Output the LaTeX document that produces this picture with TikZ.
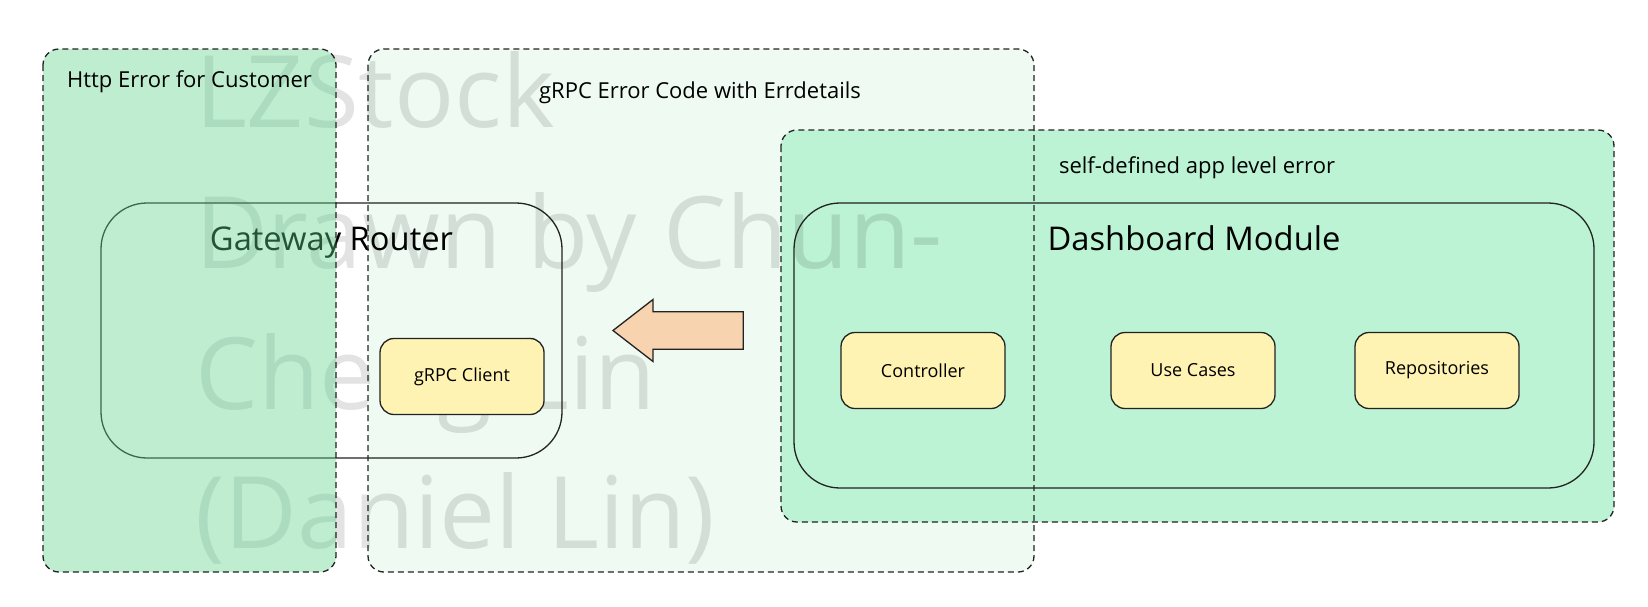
\documentclass[tikz,border=0pt]{standalone}
\usepackage{fontspec}
\setmainfont{Open Sans}
\usetikzlibrary{positioning}

\definecolor{grpcgreen}{RGB}{238,250,242}
\definecolor{appgreen}{RGB}{187,243,212}
\definecolor{httpgreen}{RGB}{92,210,137}
\definecolor{compyellow}{RGB}{255,243,179}
\definecolor{arrowpeach}{RGB}{247,211,176}
\definecolor{edgegray}{RGB}{34,34,34}

\begin{document}
\begin{tikzpicture}[x=1pt, y=-1pt,
    every node/.style={inner sep=0pt, outer sep=0pt},
    zonefill/.style={rounded corners=16pt},
    zoneline/.style={draw=edgegray, line width=1.3pt, dash pattern=on 6pt off 4pt, rounded corners=16pt},
    zonelabel/.style={font=\fontsize{22}{26}\selectfont, anchor=base},
    module/.style={draw=edgegray, line width=1.3pt, rounded corners=46pt},
    title/.style={font=\fontsize{32.7}{39}\selectfont, anchor=base},
    comp/.style={draw=edgegray, fill=compyellow, line width=1.3pt, rounded corners=14pt,
                 minimum width=164pt, minimum height=76pt, font=\fontsize{18}{22}\selectfont},
    watermark/.style={font=\fontsize{100}{140}\selectfont, text=black, text opacity=0.11, anchor=base west}]
    \useasboundingbox (0,0) rectangle (1648,606);

    % Zonas de error (relleno)
    \node[zonefill, fill=grpcgreen, minimum width=666pt, minimum height=523pt] (grpc) at (701,310.5) {};
    \node[zonefill, fill=appgreen, minimum width=833pt, minimum height=392pt] (appzone) at (1197.5,326) {};

    % Marca de agua
    \node[watermark] (wm1) at (195,127) {LZStock};
    \node[watermark] (wm2) at (195,268) {Drawn by Chun-};
    \node[watermark] (wm3) at (195,409) {Cheng Lin};
    \node[watermark] (wm4) at (195,548) {(Daniel Lin)};

    % Modulos
    \node[module, minimum width=461pt, minimum height=255pt] (gateway) at (331.5,330.5) {};
    \node[module, minimum width=800pt, minimum height=285pt] (dashboard) at (1194,345.5) {};
    \node[title] (gatewaytitle) at (331.5,250) {Gateway Router};
    \node[title] (dashtitle) at (1194,250.5) {Dashboard Module};

    % Componentes
    \node[comp] (client) at (462,376.5) {gRPC Client};
    \node[comp] (controller) at (923,370.5) {Controller};
    \node[comp] (usecases) at (1193,370.5) {Use Cases};
    \node[comp] (repos) at (1437,370.5) {Repositories};

    % Flecha
    \coordinate (tip) at (613,330.5);
    \draw[draw=edgegray, fill=arrowpeach, line width=1.3pt, line join=miter]
        (tip) -- ++(40,-31) -- ++(0,12.3) -- ++(90.3,0) -- ++(0,37.4)
        -- ++(-90.3,0) -- ++(0,12.3) -- cycle;

    % Zona http (encima, transparente)
    \node[zonefill, fill=httpgreen, fill opacity=0.4, minimum width=293pt, minimum height=523pt] (http) at (189.5,310.5) {};

    % Bordes de zonas
    \draw[zoneline] (http.north west) rectangle (http.south east);
    \draw[zoneline] (grpc.north west) rectangle (grpc.south east);
    \draw[zoneline] (appzone.north west) rectangle (appzone.south east);

    % Etiquetas
    \node[zonelabel] (httplabel) at (189.5,87.5) {Http Error for Customer};
    \node[zonelabel] (grpclabel) at (700,98) {gRPC Error Code with Errdetails};
    \node[zonelabel] (applabel) at (1197,173) {self-defined app level error};
\end{tikzpicture}
\end{document}
